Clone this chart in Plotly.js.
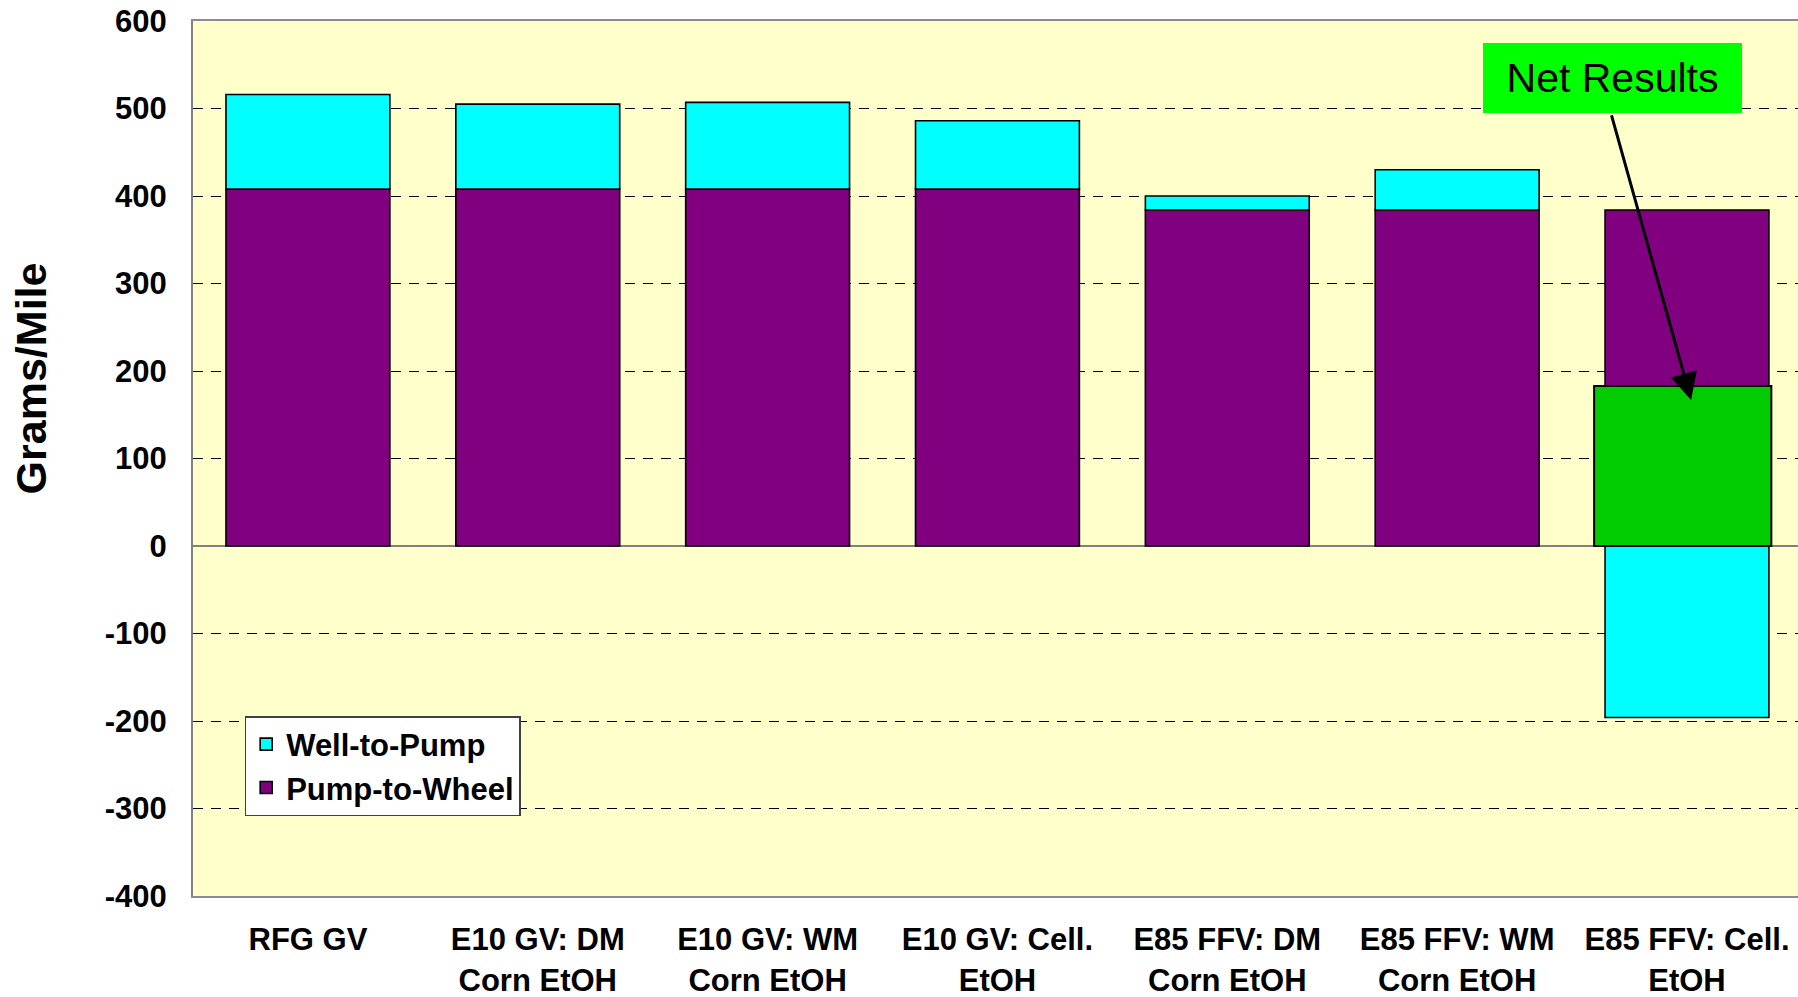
<!DOCTYPE html>
<html>
<head>
<meta charset="utf-8">
<script src="https://cdn.plot.ly/plotly-3.0.1.min.js"></script>
<style>html,body{margin:0;padding:0;background:#fff;}#chart{width:1798px;height:997px;}</style>
</head>
<body>
<div id="chart"></div>
<script>
const categories = ["RFG GV", "E10 GV: DM Corn EtOH", "E10 GV: WM Corn EtOH", "E10 GV: Cell. EtOH", "E85 FFV: DM Corn EtOH", "E85 FFV: WM Corn EtOH", "E85 FFV: Cell. EtOH"];
const tickLabels = ["RFG GV", "E10 GV: DM<br>Corn EtOH", "E10 GV: WM<br>Corn EtOH", "E10 GV: Cell.<br>EtOH", "E85 FFV: DM<br>Corn EtOH", "E85 FFV: WM<br>Corn EtOH", "E85 FFV: Cell.<br>EtOH"];
const pumpToWheel = [408, 408, 408, 408, 384, 384, 384];
const wellToPump = [108, 97, 99, 78, 16, 46, -196];
const netResults = [null, null, null, null, null, null, 183];
const yTicks = [-400, -300, -200, -100, 0, 100, 200, 300, 400, 500, 600];
const yTickLabels = ["-400", "-300", "-200", "-100", "0", "100", "200", "300", "400", "500", "600"];

const FONT = "Liberation Sans, Arial, sans-serif";
const outline = {color: "#000000", width: 1.6};

const traces = [
  {type: "bar", name: "Pump-to-Wheel", x: categories, y: pumpToWheel,
   marker: {color: "#800080", line: outline}, legendrank: 2, hoverinfo: "y+name"},
  {type: "bar", name: "Well-to-Pump", x: categories, y: wellToPump,
   marker: {color: "#00FFFF", line: outline}, legendrank: 1, hoverinfo: "y+name"},
  {type: "bar", name: "Net Results", x: categories, y: netResults, xaxis: "x2",
   width: 0.771, offset: -0.404,
   marker: {color: "#00CC00", line: {color: "#000000", width: 2}}, showlegend: false}
];

const xRange = [-0.5, 6.483];
const layout = {
  width: 1798, height: 997,
  margin: {l: 193, r: 0, t: 21, b: 101},
  paper_bgcolor: "#FFFFFF",
  plot_bgcolor: "#FFFFCC",
  barmode: "relative",
  bargap: 0.287,
  font: {family: FONT, color: "#000000"},
  xaxis: {
    type: "category", range: xRange, tickvals: categories, ticktext: tickLabels,
    tickfont: {family: FONT, size: 31, weight: "bold", color: "#000000"},
    showgrid: false, ticks: "", ticklabelstandoff: 15,
    showline: true, linecolor: "#8C8C8C", linewidth: 2, mirror: true, fixedrange: true
  },
  xaxis2: {
    type: "category", range: xRange, overlaying: "x",
    showticklabels: false, showgrid: false, showline: false, zeroline: false, ticks: ""
  },
  yaxis: {
    range: [-400, 600], tickvals: yTicks, ticktext: yTickLabels,
    tickfont: {family: FONT, size: 31, weight: "bold", color: "#000000"},
    ticks: "", ticklabelstandoff: 18,
    showgrid: true, gridcolor: "#000000", gridwidth: 1, griddash: "10px,8px",
    zeroline: true, zerolinecolor: "#808080", zerolinewidth: 2,
    showline: true, linecolor: "#808080", linewidth: 2
  },
  legend: {
    x: 0.0322, y: 0.2057, xanchor: "left", yanchor: "top",
    bgcolor: "#FFFFFF", bordercolor: "#404040", borderwidth: 1.5,
    font: {family: FONT, size: 31, weight: "bold", color: "#000000"},
    traceorder: "normal"
  },
  annotations: [
    {
      text: "Grams/Mile", xref: "paper", yref: "paper", x: -0.1007, y: 0.592,
      xanchor: "center", yanchor: "middle", textangle: -90, showarrow: false,
      font: {family: FONT, size: 43, weight: "bold", color: "#000000"}
    },
    {
      text: "", xref: "x", yref: "y", x: 6.018, y: 167,
      ax: -80, ay: -286, axref: "pixel", ayref: "pixel",
      showarrow: true, arrowhead: 2, arrowsize: 1.8, arrowwidth: 3, arrowcolor: "#000000"
    },
    {
      text: "Net Results", xref: "x", yref: "y", x: 5.677, y: 535,
      xanchor: "center", yanchor: "middle", showarrow: false,
      bgcolor: "#00FF00", borderpad: 2, borderwidth: 0, width: 255, height: 66,
      font: {family: FONT, size: 41, color: "#000000"}
    }
  ],
  showlegend: true
};

Plotly.newPlot("chart", traces, layout, {displayModeBar: false, staticPlot: true});
</script>
</body>
</html>
